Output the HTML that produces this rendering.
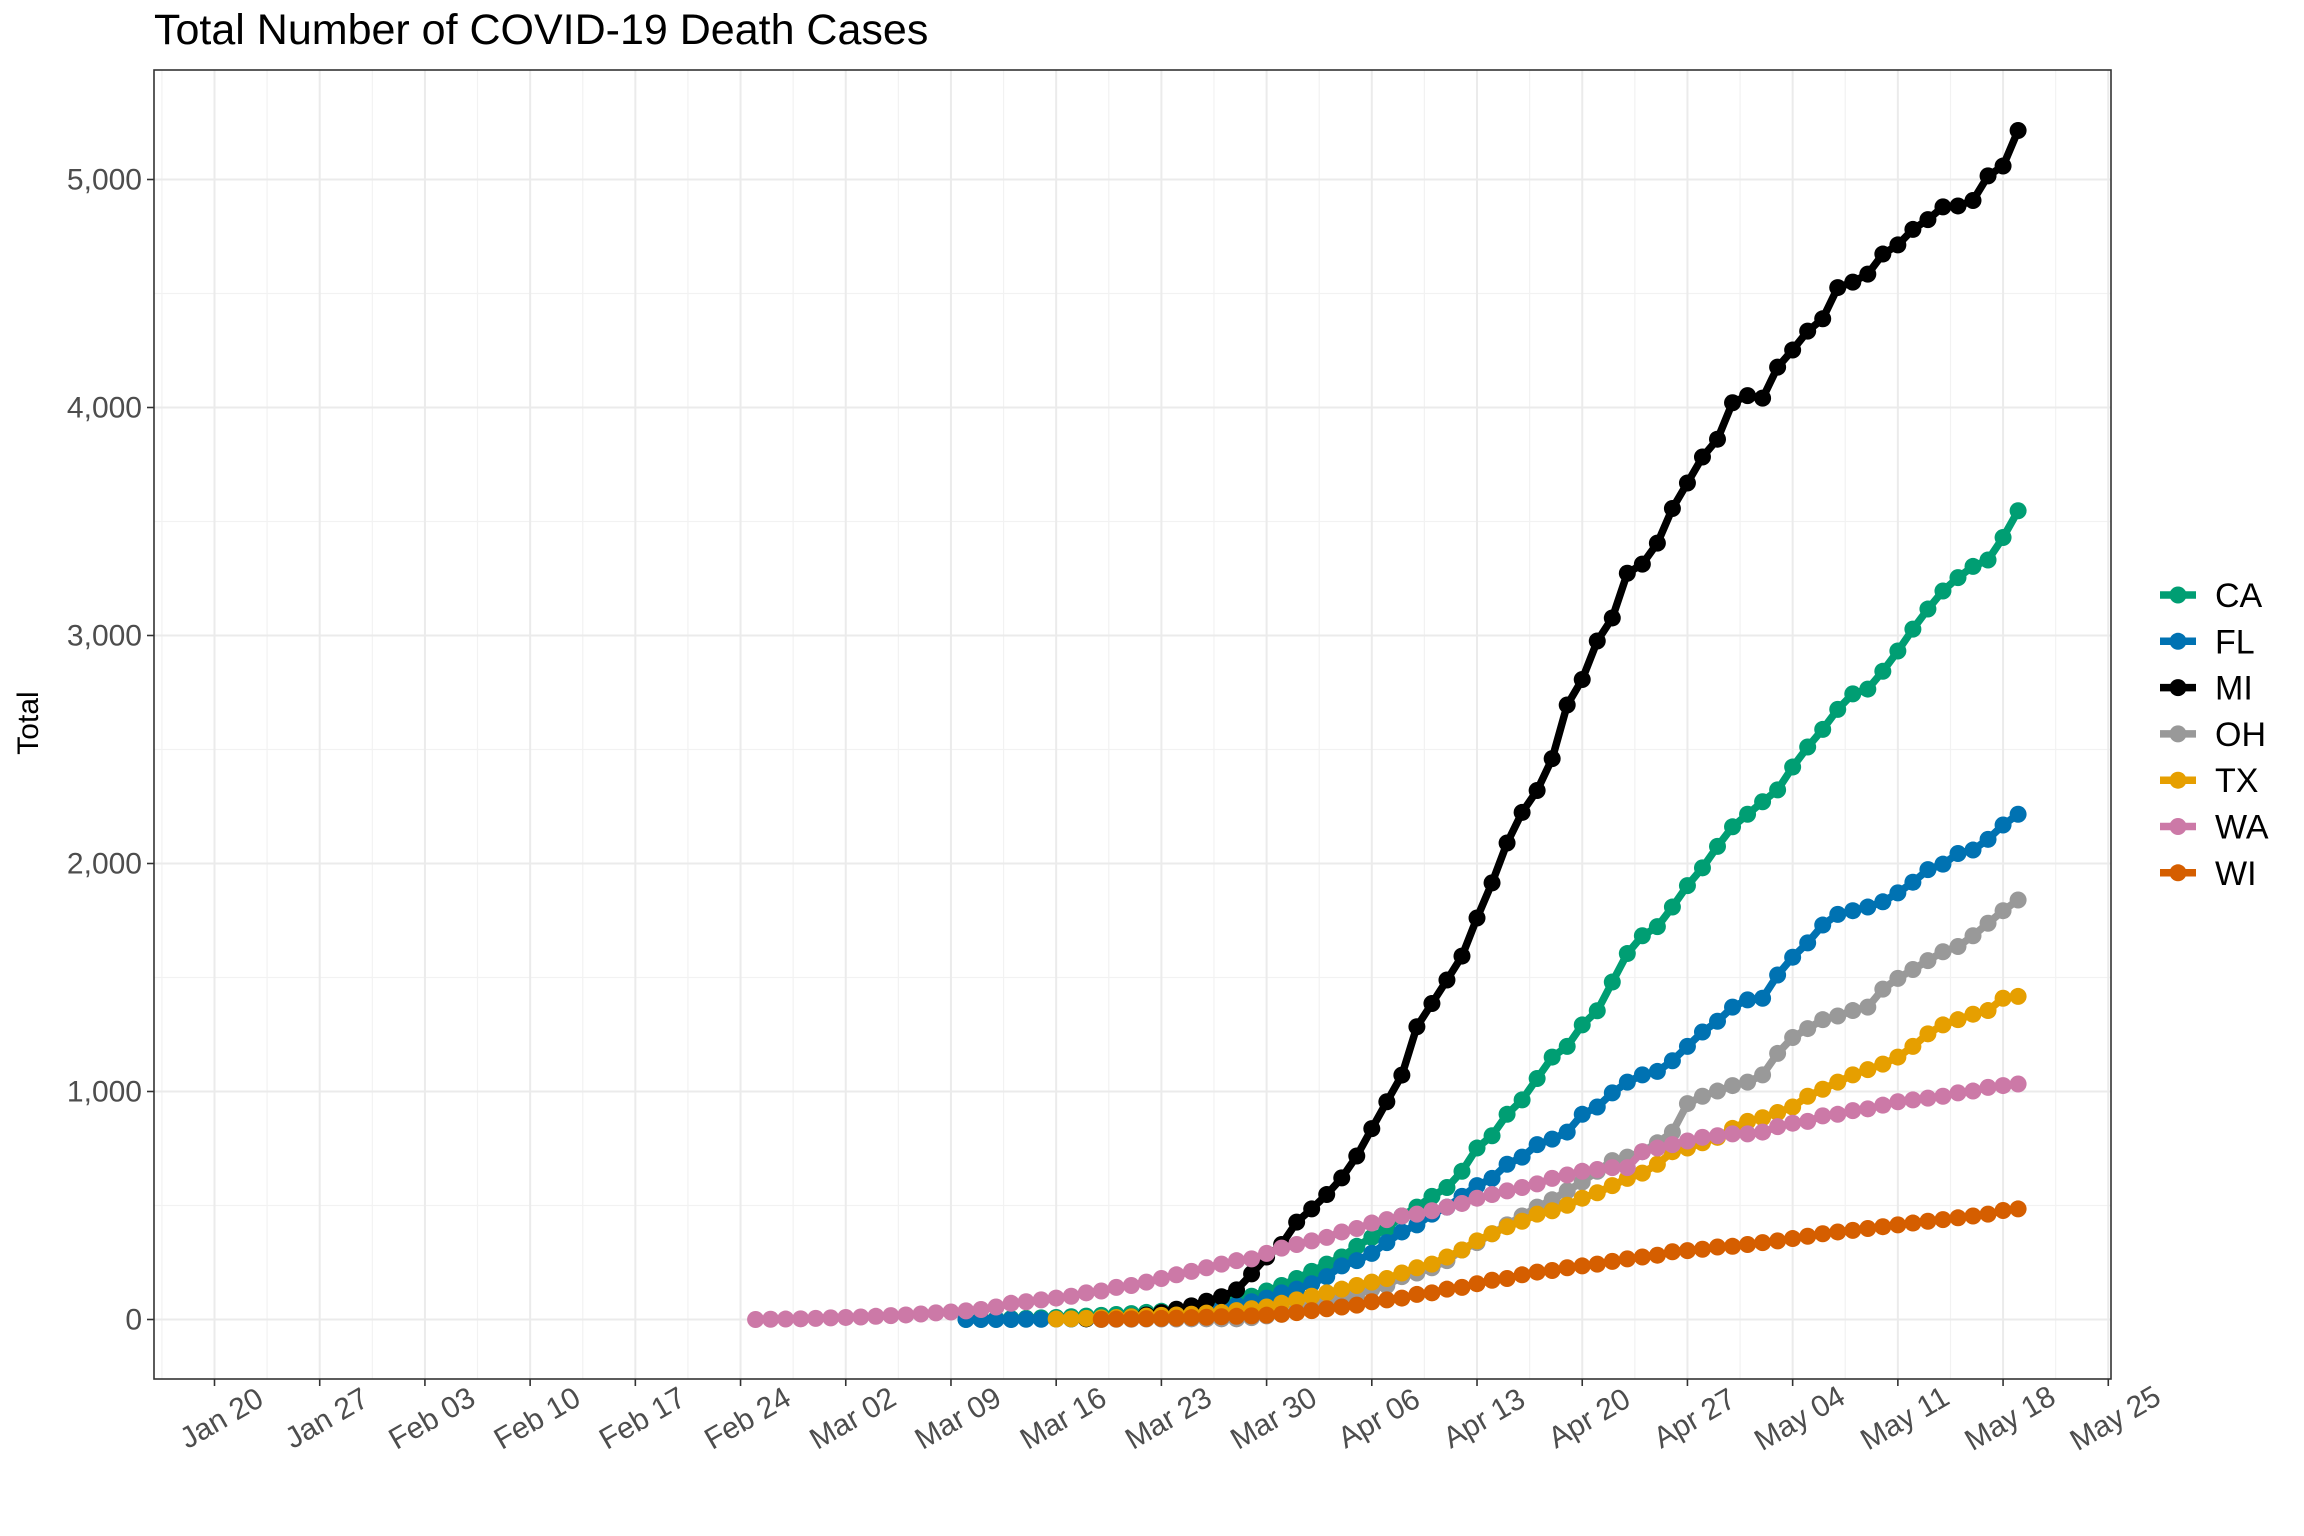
<!DOCTYPE html>
<html><head><meta charset="utf-8"><title>Total Number of COVID-19 Death Cases</title>
<style>html,body{margin:0;padding:0;background:#fff;}svg{display:block;font-family:"Liberation Sans",Arial,sans-serif;}</style>
</head><body>
<svg id="chart" width="2304" height="1536" viewBox="0 0 2304 1536" xmlns="http://www.w3.org/2000/svg">
<rect x="0" y="0" width="2304" height="1536" fill="#fff"/>
<text x="154" y="44" font-size="43" fill="#000">Total Number of COVID-19 Death Cases</text>
<g id="grid"></g>
<g id="series"></g>
<rect x="154" y="70" width="1957" height="1309" fill="none" stroke="#333" stroke-width="1.6"/>
<g id="yaxis"></g>
<g id="xaxis"></g>
<text transform="translate(38,723) rotate(-90)" text-anchor="middle" font-size="30" fill="#000">Total</text>
<g id="legend"></g>
</svg>
<script>
// Day index = days since Jan 20
const xTickLabels = ["Jan 20","Jan 27","Feb 03","Feb 10","Feb 17","Feb 24","Mar 02","Mar 09","Mar 16","Mar 23","Mar 30","Apr 06","Apr 13","Apr 20","Apr 27","May 04","May 11","May 18","May 25"];
const yTicks = [0,1000,2000,3000,4000,5000];
const yTickLabels = ["0","1,000","2,000","3,000","4,000","5,000"];
const seriesNames = ["CA","FL","MI","OH","TX","WA","WI"];
const seriesColors = ["#009E73","#0072B2","#000000","#999999","#E69F00","#CC79A7","#D55E00"];
const startDays = [50,50,58,59,56,36,59];
const caValues = [1,2,3,4,5,7,9,12,15,18,22,26,31,36,39,47,55,70,86,102,125,149,180,211,243,274,321,360,399,454,493,540,579,650,752,806,900,963,1057,1151,1198,1292,1354,1480,1605,1683,1723,1809,1903,1981,2075,2161,2216,2271,2323,2423,2511,2588,2676,2744,2765,2843,2932,3028,3116,3195,3254,3303,3331,3430,3547];
const flValues = [0,0,0,0,1,1,2,2,3,3,4,5,11,16,23,30,36,47,63,78,94,117,133,157,188,235,258,290,337,384,415,462,493,540,587,619,681,712,767,791,822,900,932,994,1041,1073,1088,1135,1198,1261,1308,1370,1402,1409,1511,1589,1652,1730,1777,1793,1809,1832,1871,1918,1973,1997,2044,2059,2106,2169,2216];
const miValues = [3,5,8,12,20,30,45,60,80,100,130,200,274,329,427,485,548,621,717,837,955,1072,1284,1386,1489,1594,1761,1915,2090,2224,2320,2460,2695,2807,2976,3077,3273,3313,3405,3557,3669,3783,3861,4021,4052,4041,4177,4252,4335,4389,4526,4550,4585,4673,4713,4781,4824,4880,4884,4908,5016,5059,5215];
const ohValues = [0,1,1,2,2,2,3,3,3,3,8,16,23,39,55,71,94,110,133,149,188,204,227,258,305,337,376,415,454,493,525,564,603,650,697,712,736,775,822,947,979,1002,1026,1041,1073,1167,1237,1276,1315,1331,1355,1370,1449,1496,1535,1574,1613,1636,1683,1738,1793,1840];
const txValues = [2,3,5,7,9,12,15,18,20,23,28,31,39,47,55,71,86,102,117,133,149,164,180,204,227,243,274,305,345,376,407,431,462,477,501,532,556,587,619,642,681,736,752,775,799,838,869,885,908,932,979,1010,1041,1073,1096,1120,1151,1198,1253,1292,1315,1339,1355,1409,1417];
const waValues = [0,1,2,3,5,7,9,11,14,17,20,24,29,33,38,44,55,71,78,86,94,102,117,125,141,149,164,180,196,211,227,243,258,266,290,313,329,345,360,384,399,423,438,454,462,477,493,509,532,548,564,579,595,619,634,650,658,666,666,736,752,767,783,799,806,814,814,822,846,861,869,893,900,916,924,940,955,963,971,979,994,1002,1018,1026,1033];
const wiValues = [1,2,3,4,5,6,8,10,12,14,16,19,23,30,39,47,55,63,78,86,94,110,117,133,141,157,172,180,196,208,215,227,235,243,255,266,274,282,297,302,308,318,321,329,337,345,355,365,376,384,391,399,407,415,423,431,438,446,454,462,478,485];

const NS = "http://www.w3.org/2000/svg";
const X0 = 214.5, XPD = 15.03;
const Y0 = 1319.5, YPU = 0.228;
const PL = 154, PR = 2111, PT = 70, PB = 1379;
function xScale(d){ return X0 + d*XPD; }
function yScale(v){ return Y0 - v*YPU; }
function mk(tag, attrs, parent){
  const el = document.createElementNS(NS, tag);
  for (const k in attrs) el.setAttribute(k, attrs[k]);
  parent.appendChild(el);
  return el;
}
const grid = document.getElementById("grid");
for (let v = -500; v <= 5500; v += 1000) {
  const y = yScale(v);
  if (y < PT || y > PB) continue;
  const l = mk("line", {x1:PL, x2:PR, y1:y, y2:y, stroke:"#f2f2f2", "stroke-width":1.2}, grid);
  
  
}
for (let d = -3.5; d <= 126; d += 7) {
  const x = xScale(d);
  if (x < PL || x > PR) continue;
  const l = mk("line", {x1:x, x2:x, y1:PT, y2:PB, stroke:"#f2f2f2", "stroke-width":1.2}, grid);
  
  
}
const yaxis = document.getElementById("yaxis");
yTicks.forEach((v, i) => {
  const y = yScale(v);
  const l = mk("line", {x1:PL, x2:PR, y1:y, y2:y, stroke:"#ebebeb", "stroke-width":2}, grid);
  
  
  const t = mk("line", {x1:PL-7, x2:PL, y1:y, y2:y, stroke:"#333", "stroke-width":1.6}, yaxis);
  
  
  const tx = mk("text", {x:PL-12, y:y+10, "text-anchor":"end", "font-size":30, fill:"#4d4d4d"}, yaxis);
  tx.textContent = yTickLabels[i];
  
  
});
const xaxis = document.getElementById("xaxis");
xTickLabels.forEach((lab, i) => {
  const x = xScale(i*7);
  const l = mk("line", {x1:x, x2:x, y1:PT, y2:PB, stroke:"#ebebeb", "stroke-width":2}, grid);
  
  
  const t = mk("line", {x1:x, x2:x, y1:PB, y2:PB+7, stroke:"#333", "stroke-width":1.6}, xaxis);
  
  
  const tx = mk("text", {transform:"translate("+(x+8)+",1420) rotate(-30)", "text-anchor":"middle", "dominant-baseline":"middle", "font-size":30, fill:"#4d4d4d"}, xaxis);
  tx.textContent = lab;
  
  
});
const allValues = [caValues, flValues, miValues, ohValues, txValues, waValues, wiValues];
const sg = document.getElementById("series");
allValues.forEach((vals, s) => {
  const g = mk("g", {}, sg);
  
  
  const pts = vals.map((v, i) => xScale(startDays[s] + i).toFixed(1) + "," + yScale(v).toFixed(1)).join(" ");
  const pl = mk("polyline", {points:pts, fill:"none", stroke:seriesColors[s], "stroke-width":7.5, "stroke-linejoin":"round"}, g);
  
  
  vals.forEach((v, i) => {
    const c = mk("circle", {cx:xScale(startDays[s] + i), cy:yScale(v), r:8.5, fill:seriesColors[s]}, g);
    
    
  });
});
const lg = document.getElementById("legend");
seriesNames.forEach((n, i) => {
  const y = 595 + i*46.3;
  const g = mk("g", {}, lg);
  
  
  mk("line", {x1:2160, x2:2196, y1:y, y2:y, stroke:seriesColors[i], "stroke-width":7.5}, g);
  mk("circle", {cx:2178, cy:y, r:8.5, fill:seriesColors[i]}, g);
  const t = mk("text", {x:2215, y:y+12, "font-size":34, fill:"#000"}, g);
  t.textContent = n;
  
  
});
</script>
</body></html>
